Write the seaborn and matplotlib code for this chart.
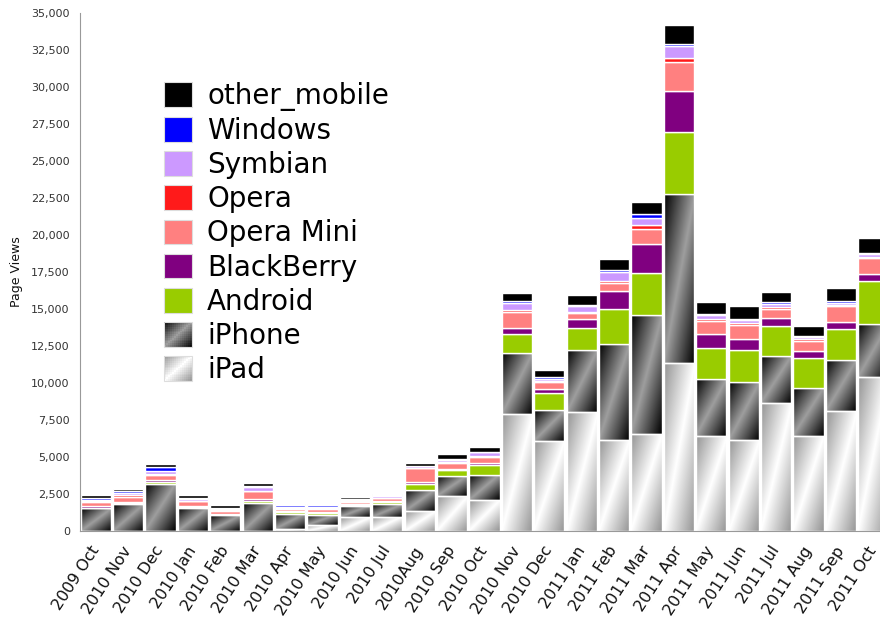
import numpy as np
import matplotlib
matplotlib.use("Agg")
import matplotlib.pyplot as plt
import seaborn as sns
from matplotlib.patches import Patch, Rectangle
from matplotlib.collections import PatchCollection
from matplotlib.ticker import FuncFormatter, MultipleLocator

# month labels as they appear on the chart
months = ["2009 Oct", "2010 Nov", "2010 Dec", "2010 Jan", "2010 Feb", "2010 Mar",
          "2010 Apr", "2010 May", "2010 Jun", "2010 Jul", "2010Aug", "2010 Sep",
          "2010 Oct", "2010 Nov", "2010 Dec", "2011 Jan", "2011 Feb", "2011 Mar",
          "2011 Apr", "2011 May", "2011 Jun", "2011 Jul", "2011 Aug", "2011 Sep",
          "2011 Oct"]

# page views per platform (bottom of the stack first)
ipad = [0, 0, 0, 0, 0, 0, 130, 420, 940, 960, 1340, 2340, 2080,
        7900, 6110, 8010, 6150, 6530, 11330, 6390, 6150, 8640, 6430, 8080, 10400]
iphone = [1540, 1810, 3190, 1580, 1070, 1900, 1050, 690, 780, 850, 1450, 1410, 1720,
          4130, 2070, 4250, 6500, 8040, 11470, 3880, 3950, 3200, 3250, 3460, 3620]
android = [45, 70, 130, 70, 45, 130, 90, 130, 70, 130, 380, 380, 670,
           1280, 1160, 1460, 2370, 2830, 4160, 2070, 2110, 2020, 2040, 2090, 2860]
blackberry = [90, 110, 130, 70, 45, 160, 70, 70, 45, 70, 110, 90, 110,
              400, 280, 630, 1180, 1970, 2760, 950, 790, 530, 460, 460, 490]
opera_mini = [310, 310, 310, 290, 200, 490, 160, 180, 130, 200, 960, 380, 450,
              1090, 440, 390, 580, 1050, 2000, 910, 910, 630, 670, 1090, 1050]
opera = [45, 160, 90, 45, 45, 45, 45, 45, 45, 45, 45, 45, 70,
         160, 90, 90, 120, 230, 210, 120, 140, 120, 120, 120, 90]
symbian = [90, 110, 220, 90, 110, 220, 90, 110, 110, 90, 90, 160, 220,
           420, 140, 390, 600, 490, 810, 260, 230, 210, 160, 120, 210]
windows = [110, 110, 250, 110, 70, 110, 90, 90, 45, 70, 45, 70, 45,
           140, 90, 50, 160, 280, 160, 90, 50, 90, 70, 120, 90]
other_mobile = [200, 160, 180, 160, 160, 200, 110, 90, 160, 90, 160, 330, 310,
                560, 490, 700, 740, 810, 1280, 790, 840, 740, 670, 860, 1000]

series = [("iPad", ipad, None), ("iPhone", iphone, None),
          ("Android", android, "#99cc00"), ("BlackBerry", blackberry, "#800080"),
          ("Opera Mini", opera_mini, "#ff8080"), ("Opera", opera, "#ff1a1a"),
          ("Symbian", symbian, "#cc99ff"), ("Windows", windows, "#0000ff"),
          ("other_mobile", other_mobile, "#000000")]

# gray levels (ends, middle) for the two gradient fills
grads = {"iPad": (0.58, 1.0), "iPhone": (0.0, 0.62)}


def grad_array(lo, hi, n=64):
    u = np.linspace(0, 1, n)
    uu, vv = np.meshgrid(u, u)
    s = 1 - np.abs(uu + vv - 1)
    return lo + (hi - lo) * s


class GradHandler:
    def __init__(self, lo, hi):
        self.lo, self.hi = lo, hi

    def legend_artist(self, legend, orig_handle, fontsize, handlebox):
        x0, y0 = -handlebox.xdescent, -handlebox.ydescent
        w, h = handlebox.width, handlebox.height
        n = 14
        rects, cols = [], []
        for i in range(n):
            for j in range(n):
                u = (i + 0.5) / n
                v = 1 - (j + 0.5) / n
                s = 1 - abs(u + v - 1)
                g = self.lo + (self.hi - self.lo) * s
                rects.append(Rectangle((x0 + i * w / n, y0 + j * h / n), w / n * 1.05, h / n * 1.05))
                cols.append((g, g, g))
        pc = PatchCollection(rects, facecolors=cols, edgecolors="none",
                             transform=handlebox.get_transform())
        handlebox.add_artist(pc)
        border = Rectangle((x0, y0), w, h, facecolor="none", edgecolor="#dddddd",
                           lw=0.8, transform=handlebox.get_transform())
        handlebox.add_artist(border)
        return pc


sns.set_style("white")
fig = plt.figure(figsize=(8.8, 6.18), dpi=100)
ax = fig.add_axes([79.5 / 880, 87 / 618, 810 / 880, 518 / 618])

pos = np.arange(len(months))
bottom = np.zeros(len(months))
for name, vals, color in series:
    vals = np.array(vals, dtype=float)
    sns.barplot(x=pos, y=vals, bottom=bottom, color=color if color else "gray",
                saturation=1, width=0.93, edgecolor="white", linewidth=1.0,
                errorbar=None, ax=ax)
    if name in grads:
        lo, hi = grads[name]
        arr = grad_array(lo, hi)
        for p in ax.containers[-1]:
            x, y = p.get_x(), p.get_y()
            w, h = p.get_width(), p.get_height()
            if h <= 0:
                continue
            im = ax.imshow(arr, extent=[x, x + w, y, y + h], cmap="gray", vmin=0, vmax=1,
                           aspect="auto", interpolation="bilinear", zorder=p.get_zorder() - 0.1)
            im.set_clip_path(p)
            p.set_facecolor("none")
    bottom = bottom + vals

ax.set_xlim(-0.5, len(months) - 0.5)
ax.set_ylim(0, 35000)
ax.set_aspect("auto")

# x axis: labels at bar centres, small ticks between bars
ax.set_xticks(pos)
ax.set_xticklabels(months, rotation=57, ha="right", va="center", rotation_mode="anchor",
                   fontsize=11.5, color="#111111")
ax.set_xticks(np.arange(-0.5, len(months), 1), minor=True)
ax.tick_params(axis="x", which="major", length=0, pad=12)
ax.tick_params(axis="x", which="minor", length=4, color="#999999", width=0.8)

ax.yaxis.set_major_locator(MultipleLocator(2500))
ax.yaxis.set_minor_locator(MultipleLocator(500))
ax.yaxis.set_major_formatter(FuncFormatter(lambda v, _: f"{v:,.0f}"))
ax.tick_params(axis="y", which="major", length=4, color="#999999", width=0.8,
               labelsize=8, labelcolor="#333333", pad=3)
ax.tick_params(axis="y", which="minor", length=2, color="#bbbbbb", width=0.6)
ax.set_ylabel("Page Views", fontsize=9, labelpad=6, color="#111111")

for side in ["top", "right"]:
    ax.spines[side].set_visible(False)
for side in ["left", "bottom"]:
    ax.spines[side].set_color("#999999")
    ax.spines[side].set_linewidth(0.8)

# legend, top entry first
h_ipad = Patch(label="iPad")
h_iphone = Patch(label="iPhone")
handles = []
for name, vals, color in reversed(series):
    if name == "iPad":
        handles.append(h_ipad)
    elif name == "iPhone":
        handles.append(h_iphone)
    else:
        handles.append(Patch(facecolor=color, edgecolor="#dddddd", linewidth=0.8, label=name))
leg = ax.legend(handles=handles, labels=[s[0] for s in reversed(series)],
                handler_map={h_ipad: GradHandler(*grads["iPad"]),
                             h_iphone: GradHandler(*grads["iPhone"])},
                loc="upper left", bbox_to_anchor=(164 / 880, 1 - 82 / 618),
                bbox_transform=fig.transFigure, frameon=False, fontsize=20,
                handlelength=1.0, handleheight=1.0, handletextpad=0.55,
                labelspacing=0.22, borderpad=0, borderaxespad=0)
for t in leg.get_texts():
    t.set_color("#000000")

fig.savefig("out.png", dpi=100)
